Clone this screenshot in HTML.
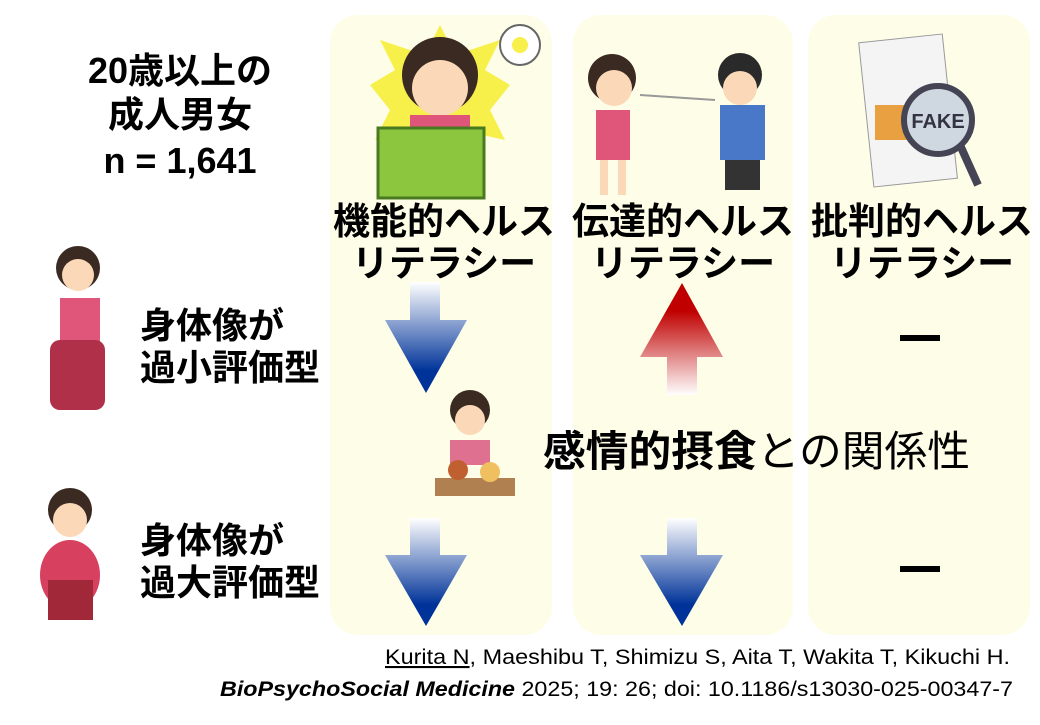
<!DOCTYPE html>
<html><head><meta charset="utf-8"><style>
body{margin:0;background:#fff;width:1040px;height:720px;overflow:hidden;font-family:"Liberation Sans","Noto Sans CJK JP",sans-serif}
svg text{font-family:"Liberation Sans","Noto Sans CJK JP",sans-serif}
</style></head><body>
<svg width="1040" height="720" viewBox="0 0 1040 720">
<defs>
<linearGradient id="bd" x1="0" y1="0" x2="0" y2="1"><stop offset="0" stop-color="#fff"/><stop offset="0.8" stop-color="#003399"/><stop offset="1" stop-color="#003399"/></linearGradient>
<linearGradient id="ru" x1="0" y1="1" x2="0" y2="0"><stop offset="0" stop-color="#fff"/><stop offset="0.75" stop-color="#c00000"/><stop offset="1" stop-color="#c00000"/></linearGradient>
</defs>
<rect x="330" y="15" width="222" height="620" rx="28" fill="#fefee8"/>
<rect x="573" y="15" width="220" height="620" rx="28" fill="#fefee8"/>
<rect x="808" y="15" width="222" height="620" rx="28" fill="#fefee8"/>
<g font-weight="bold" font-size="36" text-anchor="middle" fill="#000">
<text x="180" y="83">20歳以上の</text>
<text x="180" y="127">成人男女</text>
<text x="180" y="173">n = 1,641</text>
</g>
<g font-weight="bold" font-size="37" text-anchor="middle" fill="#000">
<text x="444" y="234">機能的ヘルス</text><text x="444" y="276">リテラシー</text>
<text x="683" y="234">伝達的ヘルス</text><text x="683" y="276">リテラシー</text>
<text x="922" y="234">批判的ヘルス</text><text x="922" y="276">リテラシー</text>
</g>
<g font-weight="bold" font-size="36" fill="#000">
<text x="140" y="338">身体像が</text><text x="140" y="380">過小評価型</text>
<text x="140" y="553">身体像が</text><text x="140" y="595">過大評価型</text>
</g>
<path d="M410 282H440V320H467L426 393L385 320H410Z" fill="url(#bd)"/>
<path d="M410 518H440V555H467L426 626L385 555H410Z" fill="url(#bd)"/>
<path d="M667 395H697V357H723L682 283L640 357H667Z" fill="url(#ru)"/>
<path d="M667 518H697V555H723L682 626L640 555H667Z" fill="url(#bd)"/>
<rect x="900" y="335" width="40" height="6" fill="#000"/>
<rect x="900" y="566" width="40" height="6" fill="#000"/>
<text x="543" y="466" font-size="42" fill="#000" textLength="427" lengthAdjust="spacingAndGlyphs"><tspan font-weight="bold">感情的摂食</tspan>との関係性</text>
<g font-size="21" fill="#000">
<text x="385" y="664" textLength="625" lengthAdjust="spacingAndGlyphs"><tspan text-decoration="underline">Kurita N</tspan>, Maeshibu T, Shimizu S, Aita T, Wakita T, Kikuchi H.</text>
<text x="220" y="696" textLength="793" lengthAdjust="spacingAndGlyphs"><tspan font-weight="bold" font-style="italic">BioPsychoSocial Medicine</tspan> 2025; 19: 26; doi: 10.1186/s13030-025-00347-7</text>
</g>
<g>
<polygon points="380,40 395,70 370,85 390,110 375,140 420,130 440,160 460,130 505,140 490,110 510,85 485,70 500,40 455,55 440,25 425,55" fill="#f7ef4a"/>
<circle cx="440" cy="75" r="38" fill="#3a2a22"/><circle cx="440" cy="88" r="28" fill="#fbd9b8"/>
<rect x="410" y="115" width="60" height="30" fill="#e0557a"/>
<rect x="378" y="128" width="106" height="70" fill="#8cc63f" stroke="#4a7a20" stroke-width="3"/>
<circle cx="520" cy="45" r="20" fill="#fff" stroke="#666" stroke-width="2"/><circle cx="520" cy="45" r="8" fill="#f7ef4a"/>
</g>
<g>
<circle cx="612" cy="78" r="24" fill="#3a2a22"/><circle cx="614" cy="88" r="18" fill="#fbd9b8"/>
<rect x="596" y="110" width="34" height="50" fill="#e0557a"/>
<rect x="600" y="160" width="8" height="35" fill="#fbd9b8"/><rect x="618" y="160" width="8" height="35" fill="#fbd9b8"/>
<circle cx="740" cy="75" r="22" fill="#2a2a2a"/><circle cx="740" cy="88" r="17" fill="#fbd9b8"/>
<rect x="720" y="105" width="45" height="55" fill="#4a78c8"/><rect x="725" y="160" width="35" height="30" fill="#333"/>
<line x1="640" y1="95" x2="715" y2="100" stroke="#999" stroke-width="2"/>
</g>
<g>
<rect x="866" y="38" width="84" height="145" fill="#f4f4f4" stroke="#999" transform="rotate(-6 908 110)"/>
<rect x="875" y="105" width="35" height="35" fill="#e8a040"/>
<circle cx="938" cy="120" r="34" fill="#cfd8e0" stroke="#445" stroke-width="6"/>
<text x="938" y="128" font-size="20" font-weight="bold" text-anchor="middle" fill="#334">FAKE</text>
<line x1="960" y1="145" x2="978" y2="185" stroke="#445" stroke-width="8"/>
</g>
<g>
<circle cx="78" cy="268" r="22" fill="#3a2a22"/><circle cx="78" cy="275" r="16" fill="#fbd9b8"/>
<rect x="60" y="298" width="40" height="45" fill="#e0557a"/>
<rect x="50" y="340" width="55" height="70" rx="10" fill="#b0304a"/>
<circle cx="70" cy="510" r="22" fill="#3a2a22"/><circle cx="70" cy="520" r="17" fill="#fbd9b8"/>
<ellipse cx="70" cy="575" rx="30" ry="35" fill="#d84060"/>
<rect x="48" y="580" width="45" height="40" fill="#a02838"/>
</g>
<g>
<circle cx="470" cy="410" r="20" fill="#3a2a22"/><circle cx="470" cy="420" r="15" fill="#fbd9b8"/>
<rect x="450" y="440" width="40" height="25" fill="#e07090"/>
<rect x="435" y="478" width="80" height="18" fill="#b08050"/>
<circle cx="458" cy="470" r="10" fill="#c06030"/><circle cx="490" cy="472" r="10" fill="#f0c060"/>
</g>
</svg>
</body></html>
